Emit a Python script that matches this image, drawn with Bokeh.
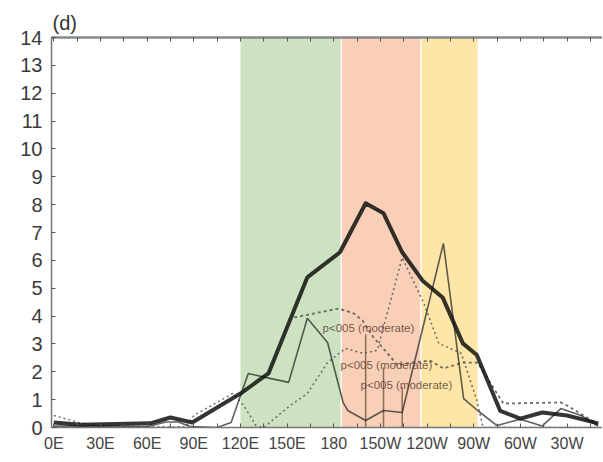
from bokeh.plotting import figure
from bokeh.models import Range1d, LinearAxis, FixedTicker
from bokeh.embed import file_html
from bokeh.resources import INLINE
from bokeh.core.properties import value

# ---- data ----
tick_pos = [0, 30, 60, 90, 120, 150, 180, 210, 240, 270, 300, 330]
tick_labels = ["0E", "30E", "60E", "90E", "120E", "150E", "180",
               "150W", "120W", "90W", "60W", "30W"]
minor_pos = [15, 45, 75, 105, 135, 165, 195, 225, 255, 285, 315, 345]
y_ticks = list(range(0, 15))

band_left = [120, 185.2, 236.4]
band_right = [184.4, 235.6, 272.5]
band_colors = ["#cde2c0", "#f9cfb7", "#fde6a8"]

thick_x = [0, 17, 62, 75, 89, 120, 138, 163, 184, 200.5, 212, 224, 237, 250,
           263, 272, 287, 300, 314, 330, 350]
thick_y = [0.18, 0.1, 0.15, 0.36, 0.18, 1.22, 1.94, 5.39, 6.29, 8.05, 7.69,
           6.29, 5.28, 4.67, 3.02, 2.6, 0.6, 0.32, 0.54, 0.43, 0.15]

thin_x = [0, 60, 72, 80, 88, 105, 114, 125, 136, 151, 163, 176, 186, 189,
          200.5, 212, 224, 250.5, 263.5, 272.5, 285, 300, 314, 326, 339, 350]
thin_y = [0.05, 0.03, 0.2, 0.2, 0.03, 0.0, 0.18, 1.94, 1.8, 1.62, 3.92, 3.05,
          0.9, 0.61, 0.25, 0.61, 0.54, 6.61, 1.04, 0.61, 0.07, 0.3, 0.05,
          0.68, 0.43, 0.05]

dotA_x = [0, 16, 30, 85, 90, 115, 122, 130, 135, 152, 163, 176, 187.5, 199,
          208, 224, 238, 247.5, 262, 272, 276, 300, 350]
dotA_y = [0.43, 0.18, 0.03, 0.03, 0.43, 1.22, 0.8, 0.07, 0.0, 0.79, 1.22,
          2.33, 2.84, 2.66, 2.77, 6.1, 4.45, 3.02, 2.66, 0.97, 0.0, 0.0, 0.0]

dashB_x = [154.6, 183, 192.7, 198.5, 205.6, 214.6, 221, 229.4, 242, 250.6,
           263, 272.5, 289, 326, 330, 350]
dashB_y = [3.95, 4.27, 4.1, 3.84, 3.23, 2.66, 2.23, 2.33, 2.4, 2.12, 2.33,
           2.33, 0.86, 0.9, 0.79, 0.11]

mark_x = [200.5, 212, 224]
mark_top = [3.35, 2.15, 1.45]

note_text = ["p<005 (moderate)", "p<005 (moderate)", "p<005 (moderate)"]
note_x = [172.8, 184.4, 197.2]
note_y = [3.56, 2.23, 1.54]

# ---- figure ----
p = figure(width=602, height=460, output_backend="svg", toolbar_location=None,
           x_range=Range1d(-1.5, 352.8), y_range=Range1d(0, 14),
           min_border_left=51, min_border_right=0, min_border_top=37,
           min_border_bottom=33, x_axis_location=None, y_axis_location=None)
p.outline_line_color = None
p.xgrid.visible = False
p.ygrid.visible = False
p.background_fill_color = "white"

p.title.text = "(d)"
p.title.text_font = "Liberation Sans"
p.title.text_font_size = "20px"
p.title.text_font_style = "normal"
p.title.text_color = "#333333"
p.title.align = "left"
p.title.offset = 1
p.title.standoff = 8

p.quad(left=band_left, right=band_right, bottom=0, top=14,
       fill_color=band_colors, line_color=None)

p.segment(x0=mark_x, y0=[0, 0, 0], x1=mark_x, y1=mark_top,
          line_color="#5a4030", line_alpha=0.7, line_width=1.5)

p.line(dotA_x, dotA_y, line_color="#555555", line_width=1.5,
       line_dash="2 3", line_alpha=0.85)
p.line(dashB_x, dashB_y, line_color="#555555", line_width=1.8,
       line_dash="3 3", line_alpha=0.85)
p.line(thin_x, thin_y, line_color="#2a2a2a", line_width=1.6, line_alpha=0.75)
p.line(thick_x, thick_y, line_color="#111111", line_width=4, line_alpha=0.85,
       line_join="round")

p.text(x=note_x, y=note_y, text=note_text, text_font=value("Liberation Sans"),
       text_font_size="11.5px", text_color="#5a4030", text_alpha=0.85,
       text_baseline="middle", text_align="left")

xt = FixedTicker(ticks=tick_pos, minor_ticks=minor_pos)
overrides = {t: l for t, l in zip(tick_pos, tick_labels)}

def style(ax):
    ax.axis_line_color = "#777777"
    ax.axis_line_width = 1.5
    ax.major_tick_line_color = "#555555"
    ax.minor_tick_line_color = "#555555"
    ax.major_tick_in = 4
    ax.major_tick_out = 0
    ax.minor_tick_in = 4
    ax.minor_tick_out = 0

xb = LinearAxis(ticker=xt, major_label_overrides=overrides)
style(xb)
xb.major_label_text_font = "Liberation Sans"
xb.major_label_text_font_size = "16px"
xb.major_label_text_color = "#444444"
xb.major_label_standoff = 7
p.add_layout(xb, "below")

xa = LinearAxis(ticker=xt)
style(xa)
xa.axis_line_width = 2.5
xa.axis_line_color = "#888888"
xa.major_label_text_font_size = "0px"
xa.major_label_text_alpha = 0
xa.major_label_standoff = 0
p.add_layout(xa, "above")

yl = LinearAxis(ticker=FixedTicker(ticks=y_ticks, minor_ticks=[]))
style(yl)
yl.major_label_text_font = "Liberation Sans"
yl.major_label_text_font_size = "20px"
yl.major_label_text_color = "#3a3a3a"
yl.major_label_standoff = 9
p.add_layout(yl, "left")

open("out.html", "w").write(file_html(p, INLINE))
